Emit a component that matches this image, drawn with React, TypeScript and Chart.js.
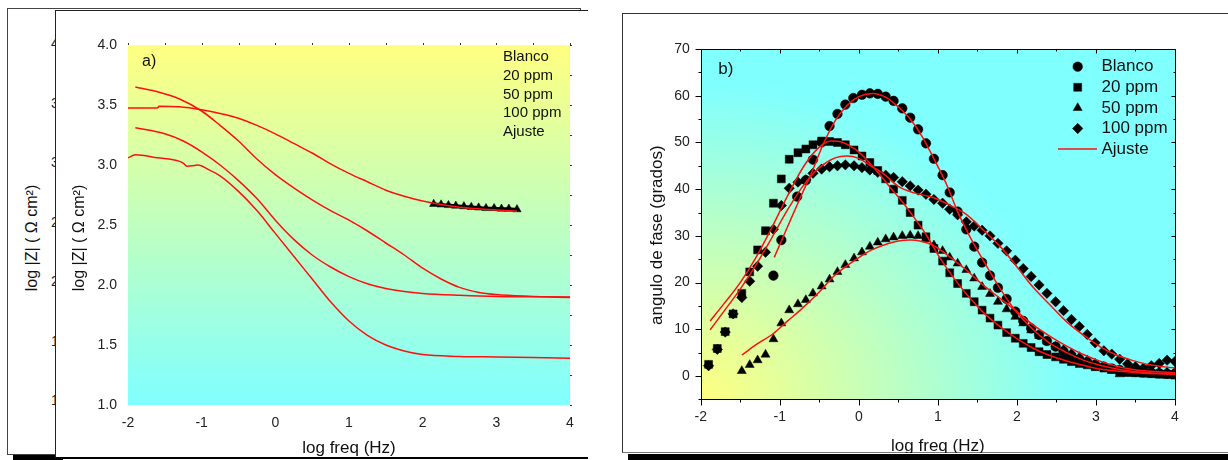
import React, { useEffect, useRef } from 'react';
import { Chart, registerables } from 'chart.js';
import { drawPoint } from 'chart.js/helpers';

Chart.register(...registerables);

const FONT = "'Liberation Sans', Arial, Helvetica, sans-serif";
const RED = '#ff1010';

// ---------------- Panel a) : log |Z| vs log freq ----------------
const aXTicks = [-2, -1, 0, 1, 2, 3, 4];
const aYTicks = [1.0, 1.5, 2.0, 2.5, 3.0, 3.5, 4.0];
const aTopMarks = [-2, -1.5, -1, -0.5, 0, 0.5, 1, 1.5, 2, 2.5, 3, 3.5, 4];
const aRightMarks = [1, 1.25, 1.5, 1.75, 2, 2.25, 2.5, 2.75, 3, 3.25, 3.5, 3.75, 4];
const aLegendLabels = ['Blanco', '20 ppm', '50 ppm', '100 ppm', 'Ajuste'];
const aYTitle = 'log |Z| ( \u03A9 cm\u00B2)';
const ghostTickLabels = ['4', '3', '3', '2', '2', '1', '1'];

const aFit1X = [-1.9, -1.6, -1.3, -1.0, -0.75, -0.5, -0.25, 0, 0.25, 0.5, 0.75, 1.0, 1.25, 1.5, 1.75, 2.0, 2.25, 2.5, 2.75, 3.0, 3.5, 4.0];
const aFit1Y = [3.65, 3.61, 3.55, 3.45, 3.33, 3.2, 3.05, 2.92, 2.81, 2.71, 2.62, 2.54, 2.45, 2.35, 2.25, 2.14, 2.05, 1.98, 1.94, 1.92, 1.905, 1.895];

const aFit2X = [-2.0, -1.6, -1.58, -1.3, -1.0, -0.75, -0.5, -0.25, 0, 0.25, 0.5, 0.75, 1.0, 1.25, 1.5, 1.75, 2.0, 2.25, 2.5, 2.75, 3.0, 3.28];
const aFit2Y = [3.475, 3.475, 3.49, 3.485, 3.46, 3.43, 3.39, 3.33, 3.26, 3.18, 3.1, 3.01, 2.93, 2.86, 2.79, 2.74, 2.7, 2.67, 2.648, 2.635, 2.625, 2.615];

const aFit3X = [-1.9, -1.5, -1.25, -1.0, -0.75, -0.5, -0.25, 0, 0.25, 0.5, 0.75, 1.0, 1.25, 1.5, 1.75, 2.0, 2.5, 3.0, 4.0];
const aFit3Y = [3.31, 3.26, 3.2, 3.11, 3.0, 2.87, 2.72, 2.54, 2.38, 2.25, 2.15, 2.07, 2.01, 1.97, 1.945, 1.93, 1.915, 1.905, 1.9];

const aFit4X = [-2.0, -1.9, -1.6, -1.3, -1.25, -1.2, -1.1, -1.05, -0.9, -0.75, -0.5, -0.25, 0, 0.25, 0.5, 0.75, 1.0, 1.25, 1.5, 1.75, 2.0, 2.5, 3.0, 4.0];
const aFit4Y = [3.06, 3.085, 3.06, 3.03, 3.015, 2.99, 2.995, 3.0, 2.96, 2.91, 2.78, 2.62, 2.43, 2.24, 2.05, 1.86, 1.7, 1.58, 1.5, 1.45, 1.42, 1.405, 1.4, 1.39];

const aTriX = [2.15, 2.25, 2.35, 2.45, 2.56, 2.66, 2.76, 2.86, 2.97, 3.07, 3.17, 3.28];
const aTriY = [2.675, 2.67, 2.665, 2.66, 2.655, 2.65, 2.645, 2.64, 2.64, 2.635, 2.635, 2.63];

// ---------------- Panel b) : phase angle vs log freq ----------------
const bXTicks = [-2, -1, 0, 1, 2, 3, 4];
const bYTicks = [0, 10, 20, 30, 40, 50, 60, 70];
const bXMarks = [-2, -1.5, -1, -0.5, 0, 0.5, 1, 1.5, 2, 2.5, 3, 3.5, 4];
const bYMarks = [-5, 0, 5, 10, 15, 20, 25, 30, 35, 40, 45, 50, 55, 60, 65, 70];
const bLegendLabels = ['Blanco', '20 ppm', '50 ppm', '100 ppm', 'Ajuste'];
const bYTitle = 'angulo de fase (grados)';

const blancoX = [-1.08, -0.98, -0.78, -0.67, -0.58, -0.47, -0.37, -0.27, -0.17, -0.07, 0.04, 0.14, 0.24, 0.34, 0.44, 0.55, 0.65, 0.75, 0.85, 0.95, 1.06, 1.15, 1.25, 1.36, 1.46, 1.56, 1.66, 1.76, 1.87, 1.98, 2.08, 2.18, 2.28, 2.38, 2.49, 2.59, 2.69, 2.79, 2.89, 2.99, 3.1, 3.2, 3.3, 3.4, 3.5, 3.6, 3.7, 3.8, 3.9, 4.0];
const blancoY = [21.5, 29.1, 38.4, 41.9, 46.3, 50.0, 53.5, 56.1, 58.1, 59.5, 60.2, 60.5, 60.4, 59.8, 58.9, 57.3, 55.3, 52.8, 49.8, 46.5, 43.0, 39.3, 35.2, 31.4, 27.7, 24.3, 21.5, 18.9, 16.5, 13.8, 11.8, 10.2, 8.8, 7.5, 6.3, 5.3, 4.4, 3.6, 3.0, 2.4, 2.0, 1.6, 1.3, 1.1, 0.9, 0.8, 0.7, 0.6, 0.5, 0.5];

const fullX = [-1.9, -1.79, -1.69, -1.59, -1.48, -1.38, -1.28, -1.18, -1.08, -0.98, -0.88, -0.77, -0.67, -0.58, -0.47, -0.37, -0.27, -0.17, -0.06, 0.04, 0.14, 0.24, 0.34, 0.44, 0.55, 0.65, 0.75, 0.85, 0.95, 1.06, 1.15, 1.25, 1.36, 1.46, 1.56, 1.66, 1.76, 1.87, 1.98, 2.08, 2.18, 2.28, 2.38, 2.49, 2.59, 2.69, 2.79, 2.89, 2.99, 3.1, 3.2, 3.3, 3.4, 3.5, 3.6, 3.7, 3.8, 3.9, 4.0];
const ppm20Y = [2.5, 5.9, 9.5, 13.3, 17.7, 22.3, 27.0, 31.1, 37.0, 42.2, 46.4, 47.8, 48.6, 49.5, 50.3, 50.2, 50.0, 49.5, 48.4, 47.1, 45.7, 44.0, 42.2, 40.0, 37.6, 35.0, 32.3, 29.8, 27.3, 24.6, 22.1, 19.8, 17.7, 15.9, 14.1, 12.4, 10.9, 9.3, 8.1, 7.0, 6.1, 5.2, 4.6, 4.1, 3.6, 3.1, 2.7, 2.4, 2.0, 1.7, 1.5, 1.0, 0.8, 0.7, 0.6, 0.5, 0.4, 0.3, 0.2];
const ppm100Y = [2.2, 5.7, 9.4, 13.3, 16.8, 20.3, 23.5, 26.5, 31.4, 36.5, 40.2, 41.5, 42.0, 43.4, 44.3, 44.8, 45.0, 45.2, 45.0, 44.6, 44.1, 43.6, 43.0, 42.5, 41.6, 40.7, 39.8, 38.9, 37.8, 37.0, 35.7, 34.5, 33.0, 32.1, 31.2, 30.0, 28.4, 26.8, 24.8, 23.0, 21.3, 19.5, 17.7, 15.9, 14.0, 12.1, 10.6, 8.9, 7.1, 5.4, 4.7, 3.6, 2.6, 2.0, 1.7, 2.2, 2.7, 3.4, 3.1];

const ppm50X = [-1.48, -1.38, -1.28, -1.18, -1.08, -0.98, -0.88, -0.77, -0.67, -0.58, -0.47, -0.37, -0.27, -0.17, -0.06, 0.04, 0.14, 0.24, 0.34, 0.44, 0.55, 0.65, 0.75, 0.85, 0.95, 1.06, 1.15, 1.25, 1.36, 1.46, 1.56, 1.66, 1.76, 1.87, 1.98, 2.08, 2.18, 2.28, 2.38, 2.49, 2.59, 2.69, 2.79, 2.89, 2.99, 3.1, 3.2, 3.3, 3.4, 3.5, 3.6, 3.7, 3.8, 3.9, 4.0];
const ppm50Y = [1.1, 2.4, 3.4, 4.6, 7.9, 11.3, 14.1, 15.4, 16.3, 17.7, 19.2, 20.7, 22.3, 23.8, 25.2, 26.5, 27.7, 28.6, 29.3, 29.7, 30.0, 30.1, 30.0, 29.3, 28.0, 26.8, 25.4, 24.1, 22.7, 20.9, 19.1, 17.6, 15.9, 14.3, 12.7, 11.3, 9.8, 8.6, 7.4, 6.3, 5.7, 4.9, 4.1, 3.4, 2.7, 2.0, 1.1, 0.4, 0.5, 0.6, 0.6, 0.7, 0.8, 0.9, 1.0];

const fitBlancoX = [-1.07, -0.9, -0.75, -0.6, -0.45, -0.3, -0.15, 0, 0.18, 0.35, 0.5, 0.65, 0.8, 0.95, 1.1, 1.25, 1.4, 1.6, 1.8, 2.0, 2.2, 2.4, 2.63, 2.84, 3.05, 3.3, 3.6, 4.0];
const fitBlancoY = [25.4, 32.0, 37.8, 43.4, 49.6, 54.6, 57.9, 59.8, 60.5, 59.6, 57.6, 55.0, 51.3, 46.5, 41.4, 35.2, 30.0, 24.0, 18.4, 13.6, 10.0, 7.2, 5.0, 3.4, 2.3, 1.4, 0.8, 0.4];

const fit20X = [-1.88, -1.7, -1.5, -1.3, -1.1, -0.9, -0.7, -0.5, -0.35, -0.2, -0.05, 0.1, 0.25, 0.4, 0.55, 0.7, 0.85, 1.0, 1.2, 1.4, 1.6, 1.8, 2.0, 2.2, 2.4, 2.63, 2.84, 3.05, 3.3, 3.6, 4.0];
const fit20Y = [11.8, 15.6, 20.0, 25.4, 31.8, 38.6, 44.8, 49.0, 50.3, 50.0, 48.6, 46.3, 43.4, 40.3, 37.3, 33.9, 30.3, 26.0, 21.0, 16.8, 13.2, 10.4, 8.0, 6.0, 4.5, 3.2, 2.3, 1.5, 1.0, 0.6, 0.4];

const fit50X = [-1.48, -1.3, -1.08, -0.9, -0.74, -0.5, -0.32, -0.15, 0.015, 0.15, 0.31, 0.5, 0.65, 0.8, 0.94, 1.15, 1.36, 1.57, 1.79, 2.0, 2.2, 2.42, 2.63, 2.84, 3.05, 3.26, 3.47, 3.7, 4.0];
const fit50Y = [4.5, 6.7, 9.1, 11.8, 14.1, 18.0, 21.3, 23.6, 25.5, 26.9, 28.0, 28.9, 29.1, 28.8, 28.0, 25.5, 22.7, 19.5, 16.6, 13.8, 11.0, 8.5, 6.4, 4.6, 3.2, 2.1, 1.4, 1.0, 0.7];

const fit100X = [-1.88, -1.7, -1.5, -1.3, -1.1, -0.9, -0.7, -0.5, -0.3, -0.15, 0, 0.15, 0.3, 0.5, 0.7, 0.94, 1.15, 1.36, 1.57, 1.79, 2.0, 2.2, 2.42, 2.63, 2.84, 3.05, 3.26, 3.47, 3.68, 4.0];
const fit100Y = [9.9, 14.0, 18.6, 23.8, 29.6, 35.6, 40.8, 44.6, 46.7, 47.1, 46.6, 45.0, 43.5, 40.6, 39.2, 38.2, 36.6, 34.6, 31.3, 27.7, 23.4, 19.1, 15.2, 11.6, 8.8, 6.3, 4.5, 3.3, 2.4, 1.7];

const pts = (xs: number[], ys: number[]) => xs.map((x, i) => ({ x, y: ys[i] }));

function line(ctx: CanvasRenderingContext2D, x1: number, y1: number, x2: number, y2: number) {
  ctx.beginPath();
  ctx.moveTo(x1, y1);
  ctx.lineTo(x2, y2);
  ctx.stroke();
}

function vTitle(ctx: CanvasRenderingContext2D, text: string, cx: number, cy: number, size: number) {
  ctx.save();
  ctx.translate(cx, cy);
  ctx.rotate(-Math.PI / 2);
  ctx.fillStyle = '#111';
  ctx.font = `${size}px ${FONT}`;
  ctx.textAlign = 'center';
  ctx.textBaseline = 'middle';
  ctx.fillText(text, 0, 0);
  ctx.restore();
}

const fitStyle = {
  showLine: true,
  pointRadius: 0,
  borderColor: RED,
  backgroundColor: RED,
  borderWidth: 1.5,
  cubicInterpolationMode: 'monotone' as const,
  order: 0,
};

const markerStyle = (style: string, r: number) => ({
  showLine: false,
  pointStyle: style,
  pointRadius: r,
  pointBackgroundColor: '#000',
  pointBorderColor: '#000',
  pointBorderWidth: 0.5,
  backgroundColor: '#000',
  borderColor: '#000',
  order: 1,
});

const aDecor = {
  id: 'aDecor',
  beforeDraw(chart: any) {
    const { ctx, chartArea: ca } = chart;
    const g = ctx.createLinearGradient(0, ca.top, 0, ca.bottom);
    g.addColorStop(0, '#ffff80');
    g.addColorStop(1, '#80ffff');
    ctx.save();
    ctx.fillStyle = g;
    ctx.fillRect(ca.left, ca.top, ca.right - ca.left, ca.bottom - ca.top);
    ctx.restore();
  },
  afterDraw(chart: any) {
    const { ctx, chartArea: ca, scales } = chart;
    const x = scales.x, y = scales.y;
    ctx.save();
    ctx.strokeStyle = '#333';
    ctx.lineWidth = 1;
    aTopMarks.forEach((v) => {
      const px = Math.round(x.getPixelForValue(v)) + 0.5;
      line(ctx, px, ca.top - 2, px, ca.top);
    });
    aRightMarks.forEach((v) => {
      const py = Math.round(y.getPixelForValue(v)) + 0.5;
      line(ctx, ca.right, py, ca.right + 2, py);
    });
    ctx.fillStyle = '#111';
    ctx.textBaseline = 'middle';
    ctx.textAlign = 'left';
    ctx.font = `15px ${FONT}`;
    aLegendLabels.forEach((t, i) => ctx.fillText(t, ca.right - 67, ca.top + 12 + i * 18.75));
    ctx.font = `16px ${FONT}`;
    ctx.fillText('a)', ca.left + 14, ca.top + 17);
    ctx.restore();
    vTitle(ctx, aYTitle, 25, (ca.top + ca.bottom) / 2 + 13, 16);
  },
};

const bDecor = {
  id: 'bDecor',
  beforeDraw(chart: any) {
    const { ctx, chartArea: ca } = chart;
    const w = ca.right - ca.left, h = ca.bottom - ca.top;
    const rx = w * 0.78, ry = h * 0.9;
    ctx.save();
    ctx.beginPath();
    ctx.rect(ca.left, ca.top, w, h);
    ctx.clip();
    ctx.fillStyle = '#80ffff';
    ctx.fillRect(ca.left, ca.top, w, h);
    ctx.translate(ca.left, ca.bottom);
    ctx.scale(rx / ry, 1);
    const g = ctx.createRadialGradient(0, 0, 0, 0, 0, ry);
    g.addColorStop(0, '#ffff80');
    g.addColorStop(1, '#80ffff');
    ctx.fillStyle = g;
    ctx.fillRect(0, -h, (w * ry) / rx + 2, h);
    ctx.restore();
  },
  afterDatasetsDraw(chart: any) {
    const { ctx, chartArea: ca, scales } = chart;
    const x = scales.x, y = scales.y;
    ctx.save();
    ctx.strokeStyle = '#000';
    ctx.lineWidth = 1;
    const L = Math.round(ca.left) + 0.5, R = Math.round(ca.right) + 0.5;
    const T = Math.round(ca.top) + 0.5, B = Math.round(ca.bottom) + 0.5;
    ctx.strokeRect(L, T, R - L, B - T);
    bXMarks.forEach((v) => {
      const px = Math.round(x.getPixelForValue(v)) + 0.5;
      const major = Number.isInteger(v);
      line(ctx, px, B, px, B + (major ? 6 : 3));
      line(ctx, px, T, px, T + (major ? 4 : 2));
    });
    bYMarks.forEach((v) => {
      const py = Math.round(y.getPixelForValue(v)) + 0.5;
      const major = v % 10 === 0;
      line(ctx, L - (major ? 6 : 3), py, L, py);
      line(ctx, R - (major ? 4 : 2), py, R, py);
    });
    ctx.restore();
  },
  afterDraw(chart: any) {
    const { ctx, chartArea: ca } = chart;
    ctx.save();
    ctx.fillStyle = '#111';
    ctx.textBaseline = 'middle';
    ctx.textAlign = 'left';
    ctx.font = `17px ${FONT}`;
    ctx.fillText('b)', ca.left + 17.5, ca.top + 20);
    const markerDs = chart.data.datasets.filter((d: any) => !d.showLine);
    bLegendLabels.forEach((t, i) => {
      const yy = ca.top + 17.7 + i * 20.6;
      ctx.fillStyle = '#111';
      ctx.fillText(t, ca.right - 73.5, yy);
      if (i < 4) {
        const d = markerDs[i];
        ctx.fillStyle = '#000';
        ctx.strokeStyle = '#000';
        ctx.lineWidth = 0.5;
        drawPoint(ctx, { pointStyle: d.pointStyle, radius: d.pointRadius, rotation: 0, borderWidth: 0.5 } as any, ca.right - 97.3, yy);
      } else {
        ctx.strokeStyle = RED;
        ctx.lineWidth = 1.5;
        line(ctx, ca.right - 117, yy, ca.right - 78, yy);
      }
    });
    ctx.restore();
    vTitle(ctx, bYTitle, 35.5, (ca.top + ca.bottom) / 2 + 11, 17);
  },
};

function PanelA() {
  const ref = useRef<HTMLCanvasElement>(null);
  useEffect(() => {
    const chart = new Chart(ref.current as HTMLCanvasElement, {
      type: 'scatter',
      data: {
        datasets: [
          { label: 'Ajuste 1', data: pts(aFit1X, aFit1Y), ...fitStyle },
          { label: 'Ajuste 2', data: pts(aFit2X, aFit2Y), ...fitStyle },
          { label: 'Ajuste 3', data: pts(aFit3X, aFit3Y), ...fitStyle },
          { label: 'Ajuste 4', data: pts(aFit4X, aFit4Y), ...fitStyle },
          { label: '50 ppm', data: pts(aTriX, aTriY), ...markerStyle('triangle', 4.8), showLine: true, borderWidth: 3, order: 2 },
        ] as any,
      },
      options: {
        animation: false,
        responsive: false,
        maintainAspectRatio: false,
        layout: { padding: { top: 35, right: 18, left: 0, bottom: 0 } },
        plugins: { legend: { display: false }, tooltip: { enabled: false } },
        scales: {
          x: {
            type: 'linear', min: -2, max: 4, position: 'bottom',
            afterBuildTicks: (s: any) => { s.ticks = aXTicks.map((v) => ({ value: v })); },
            afterFit: (s: any) => { s.height = 53; },
            grid: { display: false, drawTicks: false },
            border: { display: false },
            ticks: { padding: 9.3, color: '#222', font: { family: FONT, size: 14 }, maxRotation: 0, autoSkip: false, callback: (v: any) => String(v) },
            title: { display: true, text: 'log freq (Hz)', color: '#111', font: { family: FONT, size: 17 }, padding: { top: 0, bottom: -1 } },
          },
          y: {
            type: 'linear', min: 1, max: 4, position: 'left',
            afterBuildTicks: (s: any) => { s.ticks = aYTicks.map((v) => ({ value: v })); },
            afterFit: (s: any) => { s.width = 73; },
            grid: { display: false, drawTicks: false },
            border: { display: false },
            ticks: { padding: 11, color: '#222', font: { family: FONT, size: 14 }, callback: (v: any) => Number(v).toFixed(1) },
            title: { display: false },
          },
        },
      } as any,
      plugins: [aDecor],
    });
    return () => chart.destroy();
  }, []);
  return <canvas ref={ref} width={533} height={448} style={{ position: 'absolute', left: 55, top: 10, width: 533, height: 448 }} />;
}

function PanelB() {
  const ref = useRef<HTMLCanvasElement>(null);
  useEffect(() => {
    const chart = new Chart(ref.current as HTMLCanvasElement, {
      type: 'scatter',
      data: {
        datasets: [
          { label: 'Blanco', data: pts(blancoX, blancoY), ...markerStyle('circle', 4.8) },
          { label: '20 ppm', data: pts(fullX, ppm20Y), ...markerStyle('rect', 5.6) },
          { label: '50 ppm', data: pts(ppm50X, ppm50Y), ...markerStyle('triangle', 5.2) },
          { label: '100 ppm', data: pts(fullX, ppm100Y), ...markerStyle('rectRot', 5.2) },
          { label: 'Ajuste Blanco', data: pts(fitBlancoX, fitBlancoY), ...fitStyle },
          { label: 'Ajuste 20 ppm', data: pts(fit20X, fit20Y), ...fitStyle },
          { label: 'Ajuste 50 ppm', data: pts(fit50X, fit50Y), ...fitStyle },
          { label: 'Ajuste 100 ppm', data: pts(fit100X, fit100Y), ...fitStyle },
        ] as any,
      },
      options: {
        animation: false,
        responsive: false,
        maintainAspectRatio: false,
        layout: { padding: { top: 36, right: 53, left: 0, bottom: 0 } },
        plugins: { legend: { display: false }, tooltip: { enabled: false } },
        scales: {
          x: {
            type: 'linear', min: -2, max: 4, position: 'bottom',
            afterBuildTicks: (s: any) => { s.ticks = bXTicks.map((v) => ({ value: v })); },
            afterFit: (s: any) => { s.height = 53.6; },
            grid: { display: false, drawTicks: false },
            border: { display: false },
            ticks: { padding: 9, color: '#222', font: { family: FONT, size: 14 }, maxRotation: 0, autoSkip: false, callback: (v: any) => String(v) },
            title: { display: true, text: 'log freq (Hz)', color: '#111', font: { family: FONT, size: 17 }, padding: { top: 0, bottom: -4 } },
          },
          y: {
            type: 'linear', min: -5, max: 70, position: 'left',
            afterBuildTicks: (s: any) => { s.ticks = bYTicks.map((v) => ({ value: v })); },
            afterFit: (s: any) => { s.width = 78.7; },
            grid: { display: false, drawTicks: false },
            border: { display: false },
            ticks: { padding: 11, color: '#222', font: { family: FONT, size: 14 }, callback: (v: any) => String(v) },
            title: { display: false },
          },
        },
      } as any,
      plugins: [bDecor],
    });
    return () => chart.destroy();
  }, []);
  return <canvas ref={ref} width={606} height={440} style={{ position: 'absolute', left: 622, top: 13, width: 606, height: 440 }} />;
}

export default function App() {
  const abs = (s: React.CSSProperties): React.CSSProperties => ({ position: 'absolute', boxSizing: 'border-box', ...s });
  return (
    <div style={abs({ left: 0, top: 0, width: 1228, height: 460, overflow: 'hidden', background: '#fff', fontFamily: FONT })}>
      {/* ghost frame behind panel a */}
      <div style={abs({ left: 7, top: 8, width: 574, height: 447, border: '1px solid #444' })} />
      <div style={abs({ left: 13, top: 455, width: 50, height: 5, background: '#000' })} />
      <div style={abs({ left: 32, top: 238, transform: 'translate(-50%, -50%) rotate(-90deg)', whiteSpace: 'nowrap', fontSize: 16, color: '#111' })}>
        {aYTitle}
      </div>
      {ghostTickLabels.map((t, i) => (
        <div key={i} style={abs({ left: 51, top: 43 + i * 59.5 - 9, fontSize: 14, lineHeight: '18px', color: '#222' })}>{t}</div>
      ))}
      {/* panel a box */}
      <div style={abs({ left: 55, top: 10, width: 533, height: 449, background: '#fff', borderTop: '1px solid #222', borderLeft: '1px solid #222', borderBottom: '2px solid #000' })} />
      <PanelA />
      {/* panel b box */}
      <div style={abs({ left: 622, top: 13, width: 606, height: 440, borderTop: '1px solid #333', borderLeft: '1.5px solid #333', borderBottom: '1px solid #777' })} />
      <div style={abs({ left: 628, top: 454, width: 600, height: 6, background: '#000' })} />
      <PanelB />
    </div>
  );
}
